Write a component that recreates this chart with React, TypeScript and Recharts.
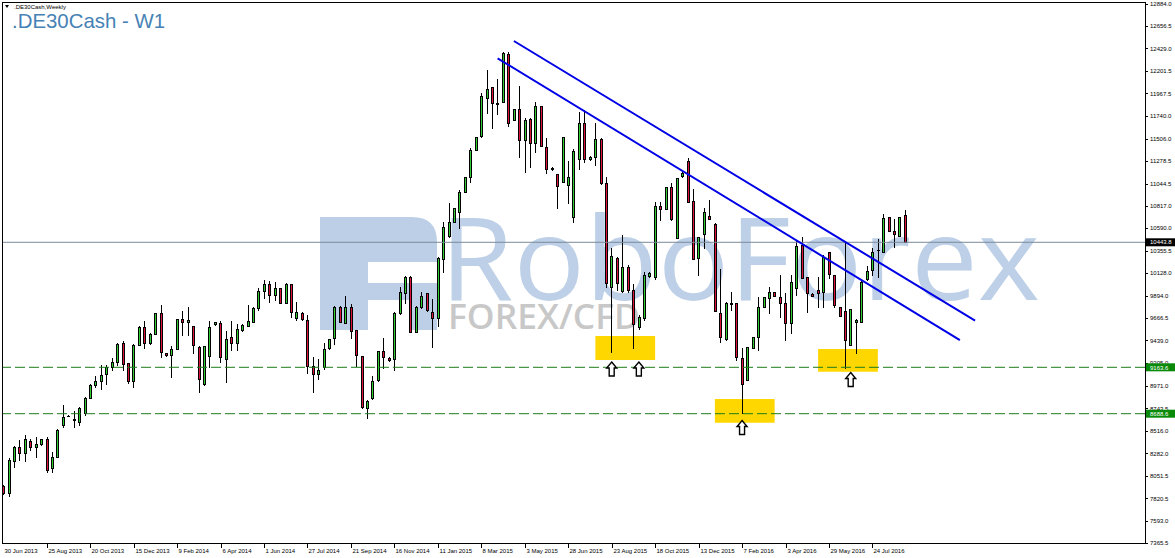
import React from "react"
import {
  ComposedChart,
  Bar,
  XAxis,
  YAxis,
  ReferenceLine,
  ReferenceArea,
  ReferenceDot,
} from "recharts"

// weekly candles, first bar = week of 30 Jun 2013
const opens = [
  7948, 7874, 8208, 8350, 8283, 8412, 8345, 8378, 8426, 8136,
  8248, 8573, 8670, 8624, 8600, 8693, 8852, 8982, 9023, 9092,
  9164, 9215, 9416, 9205, 9027, 9392, 9573, 9416, 9505, 9717,
  9307, 9290, 9350, 9655, 9630, 9588, 9375, 8990, 9280, 9605,
  9620, 9245, 9477, 9416, 9545, 9590, 9631, 9775, 9948, 10013,
  9904, 9979, 9826, 10013, 9672, 9723, 9649, 9178, 9093, 9170,
  9358, 9461, 9784, 9620, 9784, 9545, 9279, 8744, 8846, 9034,
  9331, 9262, 9245, 9723, 9921, 10085, 9529, 9785, 9921, 9734,
  9665, 10270, 10508, 10655, 10758, 10962, 11109, 11389, 11536, 11918,
  12031, 11874, 11877, 12372, 11696, 11805, 11491, 11703, 11457, 11839,
  11423, 11201, 11140, 11065, 11031, 10699, 11297, 11668, 11297, 11314,
  11498, 11048, 9983, 10280, 9949, 10194, 9955, 9573, 9672, 10102,
  10092, 10815, 10781, 11007, 10484, 11126, 11280, 10867, 10280, 10525,
  10713, 10628, 9723, 9453, 9819, 9819, 9256, 9034, 9358, 9471,
  9778, 9870, 9931, 9887, 9819, 9614, 9979, 10416, 10092, 9918,
  9955, 9931, 10341, 10109, 9778, 9740, 9392, 9631, 9631, 10064,
  10160, 10365, 10348, 10699, 10559, 10508, 10723,
]
const highs = [
  7962, 8238, 8358, 8419, 8470, 8426, 8453, 8430, 8447, 8300,
  8530, 8778, 8680, 8716, 8755, 8863, 8989, 9075, 9187, 9187,
  9256, 9409, 9436, 9210, 9402, 9585, 9641, 9512, 9717, 9802,
  9312, 9378, 9655, 9743, 9780, 9590, 9378, 9382, 9641, 9630,
  9641, 9532, 9641, 9610, 9605, 9800, 9785, 9973, 10057, 10050,
  10040, 9979, 10030, 10020, 9830, 9730, 9700, 9270, 9250, 9410,
  9458, 9791, 9790, 9895, 9808, 9548, 9279, 8829, 9075, 9331,
  9467, 9270, 9733, 9990, 10099, 10099, 9792, 9931, 9928, 9860,
  10297, 10655, 10843, 10792, 10979, 11109, 11406, 11519, 11976, 12208,
  12031, 12113, 12396, 12396, 11805, 12044, 11713, 11713, 11884, 11839,
  11508, 11210, 11140, 11525, 11280, 11396, 11781, 11798, 11330, 11662,
  11510, 11116, 10382, 10297, 10518, 10211, 10017, 9700, 10143, 10140,
  10860, 10860, 11007, 11048, 11099, 11160, 11304, 10986, 10502, 10792,
  10877, 10640, 10170, 9830, 9938, 9819, 9358, 9375, 9471, 9887,
  9887, 9989, 9931, 10109, 9921, 10109, 10467, 10501, 10092, 9925,
  10085, 10314, 10348, 10109, 9780, 10450, 9757, 9658, 10045, 10201,
  10382, 10474, 10733, 10705, 10679, 10705, 10774,
]
const lows = [
  7866, 7849, 8140, 8215, 8207, 8315, 8242, 8370, 8094, 8094,
  8248, 8555, 8660, 8555, 8570, 8676, 8846, 8966, 8945, 8989,
  9133, 9184, 9133, 9000, 8965, 9390, 9358, 9400, 9505, 9273,
  9280, 9068, 9350, 9494, 9494, 9310, 8914, 8985, 9170, 9600,
  9222, 9017, 9337, 9337, 9540, 9588, 9631, 9754, 9874, 9830,
  9857, 9826, 9826, 9680, 9650, 9650, 9105, 8910, 9040, 9150,
  9355, 9400, 9631, 9615, 9467, 9174, 8744, 8640, 8840, 9024,
  9153, 9230, 9136, 9710, 9826, 9522, 9522, 9774, 9744, 9375,
  9587, 10143, 10495, 10655, 10587, 10962, 11065, 11389, 11525, 11771,
  11618, 11758, 11877, 11635, 11696, 11321, 11160, 11211, 11372, 11433,
  11150, 11185, 10792, 11065, 10850, 10655, 11194, 11269, 11290, 11235,
  11040, 9989, 9324, 9955, 9938, 9938, 9358, 9560, 9648, 10090,
  10064, 10672, 10781, 10672, 10484, 11110, 10860, 10269, 10109, 10382,
  10680, 9744, 9426, 9440, 9750, 9238, 8692, 9034, 9358, 9341,
  9778, 9716, 9897, 9682, 9443, 9511, 9904, 10075, 9733, 9890,
  9785, 9785, 10075, 9785, 9690, 9153, 9390, 9307, 9625, 10058,
  10109, 10092, 10348, 10560, 10392, 10505, 10443.8,
]
const closes = [
  7874, 8215, 8350, 8283, 8426, 8345, 8378, 8426, 8112, 8248,
  8522, 8659, 8665, 8634, 8744, 8846, 8982, 9023, 9085, 9164,
  9215, 9402, 9194, 9027, 9392, 9573, 9416, 9505, 9717, 9324,
  9286, 9348, 9655, 9625, 9648, 9392, 9043, 9382, 9573, 9625,
  9273, 9450, 9416, 9553, 9600, 9638, 9775, 9945, 10013, 9904,
  9979, 9826, 10013, 9733, 9733, 9655, 9178, 9093, 9136, 9348,
  9450, 9784, 9631, 9784, 9535, 9290, 8754, 8819, 9023, 9331,
  9273, 9239, 9723, 9932, 10085, 9522, 9785, 9897, 9750, 9665,
  10280, 10597, 10655, 10792, 10962, 11109, 11389, 11519, 11942, 12010,
  11867, 11860, 12379, 11662, 11805, 11491, 11696, 11457, 11839, 11433,
  11191, 11194, 11020, 11525, 11109, 11379, 11669, 11297, 11320, 11498,
  11048, 10024, 10303, 10024, 10194, 9955, 9607, 9682, 10109, 10126,
  10815, 10781, 11007, 10679, 11099, 11150, 10860, 10269, 10502, 10757,
  10686, 9744, 9477, 9819, 9812, 9266, 8993, 9375, 9471, 9778,
  9887, 9938, 9897, 9819, 9614, 10041, 10406, 10075, 9921, 9894,
  9921, 10297, 10116, 9802, 9693, 9443, 9757, 9648, 10041, 10150,
  10348, 10368, 10689, 10563, 10525, 10699, 10443.8,
]

// time scale labels, every 8th bar
const dateTicks = [0, 8, 16, 24, 32, 40, 48, 56, 64, 72, 80, 88, 96, 104, 112, 120, 128, 136, 144, 152, 160]
const dateLabels = [
  "30 Jun 2013", "25 Aug 2013", "20 Oct 2013", "15 Dec 2013", "9 Feb 2014", "6 Apr 2014",
  "1 Jun 2014", "27 Jul 2014", "21 Sep 2014", "16 Nov 2014", "11 Jan 2015", "8 Mar 2015",
  "3 May 2015", "28 Jun 2015", "23 Aug 2015", "18 Oct 2015", "13 Dec 2015", "7 Feb 2016",
  "3 Apr 2016", "29 May 2016", "24 Jul 2016",
]

const priceTicks = [
  12884.0, 12656.5, 12429.0, 12201.5, 11967.5, 11740.0, 11506.0, 11278.5, 11044.5,
  10817.0, 10590.0, 10355.5, 10128.0, 9894.0, 9666.5, 9439.0, 9205.0, 8971.0,
  8743.5, 8516.0, 8282.0, 8051.5, 7820.5, 7593.0, 7365.5,
]

const lastPrice = 10443.8
const supportLevels = [9163.6, 8688.6]

// drawn objects (bar index / price)
const zones = [
  { from: 109, to: 120, low: 9238, high: 9484 },
  { from: 131, to: 142, low: 8596, high: 8839 },
  { from: 150, to: 161, low: 9119, high: 9351 },
]
const arrows = [
  { at: 112, price: 9146 },
  { at: 117, price: 9146 },
  { at: 136, price: 8547 },
  { at: 156, price: 9039 },
]
const channel = [
  [{ x: 94.0, y: 12505 }, { x: 178.9, y: 9641 }],
  [{ x: 91.0, y: 12328 }, { x: 176.1, y: 9443 }],
]

const data = opens.map((o, i) => ({
  i,
  o,
  h: highs[i],
  l: lows[i],
  c: closes[i],
  range: [lows[i], highs[i]],
}))

const smallFont = "'Liberation Sans', Arial, sans-serif"

function Candle(props: any) {
  const { x, y, width, height, payload } = props
  const { o, h, l, c } = payload
  const top = Math.min(y, y + height)
  const span = Math.abs(height)
  const toY = (p: number) => (h === l ? top : top + ((h - p) / (h - l)) * span)
  const cx = Math.round(x + width / 2)
  const yHigh = Math.round(top)
  const yLow = Math.round(top + span)
  const bTop = Math.round(toY(Math.max(o, c)))
  const bBot = Math.round(toY(Math.min(o, c)))
  const up = c >= o
  return (
    <g>
      <line x1={cx + 0.5} x2={cx + 0.5} y1={yHigh} y2={yLow + 1} stroke="#000" />
      {bBot - bTop < 1 ? (
        <line x1={cx - 1} x2={cx + 2} y1={bTop + 0.5} y2={bTop + 0.5} stroke="#000" />
      ) : (
        <rect
          x={cx - 0.5}
          y={bTop + 0.5}
          width={2}
          height={bBot - bTop}
          fill={up ? "#32CD32" : "#DC143C"}
          stroke="#000"
        />
      )}
    </g>
  )
}

function DateTick(props: any) {
  const { x, payload } = props
  const k = dateTicks.indexOf(payload.value)
  const px = Math.round(x)
  return (
    <g>
      {k > 0 && <line x1={px + 0.5} x2={px + 0.5} y1={544} y2={548} stroke="#000" />}
      <text x={px + 1.5} y={553} fontSize={6} fontFamily={smallFont} fill="#000">
        {dateLabels[k]}
      </text>
    </g>
  )
}

function PriceTick(props: any) {
  const { y, payload } = props
  const v = payload.value as number
  const badge =
    v === lastPrice ? "#000" : supportLevels.includes(v) ? "#0a8a0a" : null
  if (badge) {
    return (
      <g>
        <rect x={1145.5} y={y - 4} width={29.5} height={8} fill={badge} />
        <text x={1150} y={y + 2.2} fontSize={6} fontFamily={smallFont} fill="#fff">
          {v.toFixed(1)}
        </text>
      </g>
    )
  }
  return (
    <g>
      <line x1={1145} x2={1148} y1={Math.round(y) + 0.5} y2={Math.round(y) + 0.5} stroke="#000" />
      <text x={1150} y={y + 2.2} fontSize={6} fontFamily={smallFont} fill="#000">
        {v.toFixed(1)}
      </text>
    </g>
  )
}

function UpArrow(props: any) {
  const { cx, cy } = props
  const pts = [
    [cx, cy - 7],
    [cx + 5, cy - 1],
    [cx + 2.5, cy - 1],
    [cx + 2.5, cy + 7],
    [cx - 2.5, cy + 7],
    [cx - 2.5, cy - 1],
    [cx - 5, cy - 1],
  ]
  return (
    <polygon
      points={pts.map((p) => p.join(",")).join(" ")}
      fill="#fff"
      stroke="#000"
      strokeWidth={1.4}
    />
  )
}

export default function App() {
  return (
    <div style={{ position: "absolute", left: 0, top: 0, width: 1175, height: 558, background: "#fff" }}>
      {/* watermark + title under the chart */}
      <svg width={1175} height={558} style={{ position: "absolute", left: 0, top: 0 }}>
        <path
          d="M320 217 H412 Q437 217 437 242 V262 H368 V283 H437 V330 H410 V300 H368 V330 H320 Z"
          fill="#bccfe6"
        />
        <text
          x={440}
          y={300}
          fontSize={115}
          fontFamily="'Open Sans', sans-serif"
          fill="#bdd0e7"
          textLength={600}
          lengthAdjust="spacingAndGlyphs"
        >
          RoboForex
        </text>
        <text
          x={448}
          y={329}
          fontSize={34}
          fontFamily="'Open Sans', sans-serif"
          fontWeight={600}
          fill="#c8c8c8"
          textLength={192}
          lengthAdjust="spacingAndGlyphs"
        >
          FOREX/CFD
        </text>
        <text x={12} y={28} fontSize={20.4} fontFamily={smallFont} fill="#4682B4">
          .DE30Cash - W1
        </text>
        <path d="M5 5 L9 5 L7 8 Z" fill="#000" />
        <text x={14} y={9} fontSize={6} fontFamily={smallFont} fill="#000">
          .DE30Cash,Weekly
        </text>
      </svg>

      <div style={{ position: "absolute", left: 0, top: 0 }}>
        <ComposedChart
          width={1175}
          height={558}
          data={data}
          margin={{ top: 2.5, right: 0, bottom: 0, left: 2.5 }}
        >
          <XAxis
            dataKey="i"
            type="number"
            domain={[-0.147, 210.18]}
            allowDataOverflow
            ticks={dateTicks}
            interval={0}
            height={14}
            axisLine={false}
            tickLine={false}
            tick={<DateTick />}
          />
          <YAxis
            orientation="right"
            type="number"
            domain={[7354.3, 12899.3]}
            allowDataOverflow
            ticks={[...priceTicks, lastPrice, ...supportLevels]}
            interval={0}
            width={30}
            axisLine={false}
            tickLine={false}
            tick={<PriceTick />}
          />

          {zones.map((z, k) => (
            <ReferenceArea
              key={"z" + k}
              x1={z.from}
              x2={z.to}
              y1={z.low}
              y2={z.high}
              fill="#FFD700"
              fillOpacity={1}
              stroke="none"
            />
          ))}

          <ReferenceLine y={lastPrice} stroke="#7a8a99" />
          {supportLevels.map((v) => (
            <ReferenceLine key={v} y={v} stroke="#1c7c1c" strokeDasharray="10 4" />
          ))}

          <Bar dataKey="range" barSize={3} shape={<Candle />} isAnimationActive={false} />

          {channel.map((seg, k) => (
            <ReferenceLine key={"c" + k} segment={seg} stroke="#0000e6" strokeWidth={2} />
          ))}

          {arrows.map((a, k) => (
            <ReferenceDot key={"a" + k} x={a.at} y={a.price} shape={<UpArrow />} />
          ))}
        </ComposedChart>
      </div>

      {/* chart frame */}
      <svg width={1175} height={558} style={{ position: "absolute", left: 0, top: 0, pointerEvents: "none" }}>
        <rect x={2.5} y={2.5} width={1143} height={541} fill="none" stroke="#000" />
      </svg>
    </div>
  )
}
